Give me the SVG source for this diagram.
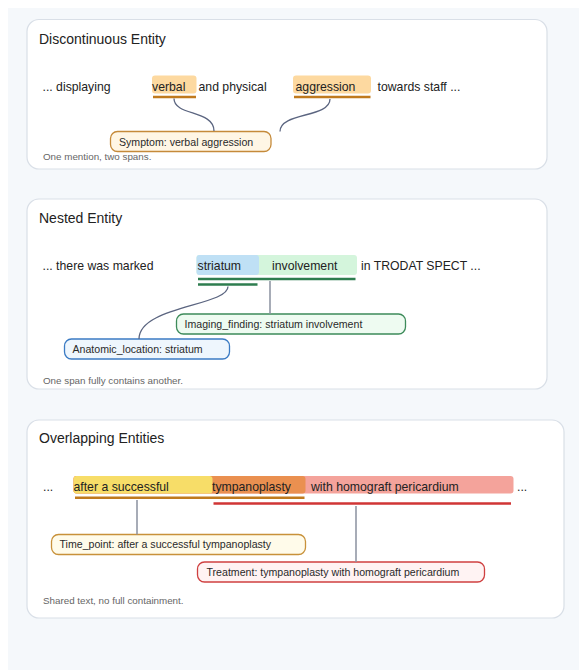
<svg xmlns="http://www.w3.org/2000/svg" width="579" height="670" viewBox="0 0 579 670">
<style>
text{font-family:"Liberation Sans",Arial,Helvetica,sans-serif;fill:#222}
.title{font-size:14px}
.tok{font-size:12.25px}
.lbl{font-size:10.6px;fill:#2a2a2a}
.note{font-size:9.8px;fill:#666}
.panel{fill:#fff;stroke:#d9dfe7;stroke-width:1.2}
.conn{fill:none;stroke:#5b6580;stroke-width:1.3}
.vconn{fill:none;stroke:#8a919f;stroke-width:1.5}
.ul{stroke-width:2.6;fill:none}
.box{stroke-width:1.3}
</style>
<rect x="8" y="8" width="571" height="662" fill="#f5f8fb"/>

<g id="panel-discontinuous">
<rect class="panel" x="27" y="19.5" width="520" height="149.5" rx="12"/>
<text class="title" x="39" y="44">Discontinuous Entity</text>
<text class="note" x="43" y="160">One mention, two spans.</text>
</g>
<g id="panel-nested">
<rect class="panel" x="27" y="199" width="520" height="190" rx="12"/>
<text class="title" x="39" y="223">Nested Entity</text>
<text class="note" x="43" y="384">One span fully contains another.</text>
</g>
<g id="panel-overlapping">
<rect class="panel" x="27" y="420" width="537" height="198" rx="12"/>
<text class="title" x="39" y="443">Overlapping Entities</text>
<text class="note" x="43" y="604">Shared text, no full containment.</text>
</g>

<!-- Panel 1 tokens -->
<g id="tok-displaying"><text class="tok" x="42.5" y="90.5">... displaying</text></g>
<g id="tok-verbal">
<rect x="152" y="75.5" width="44.5" height="18" rx="3" fill="#fdd9a0"/>
<text class="tok" x="152" y="90.5">verbal</text>
<line class="ul" x1="153" y1="97" x2="196" y2="97" stroke="#c07a1e"/>
</g>
<g id="tok-and-physical"><text class="tok" x="198.5" y="90.5">and physical</text></g>
<g id="tok-aggression">
<rect x="293" y="75.5" width="78" height="18" rx="3" fill="#fdd9a0"/>
<text class="tok" x="295.5" y="90.5">aggression</text>
<line class="ul" x1="294" y1="97" x2="370.5" y2="97" stroke="#c07a1e"/>
</g>
<g id="tok-towards"><text class="tok" x="377.5" y="90.5">towards staff ...</text></g>
<g id="label-symptom">
<rect class="box" x="110.5" y="131.5" width="160.5" height="20" rx="7" fill="#fff6e5" stroke="#c58a3a"/>
<text class="lbl" x="119" y="146">Symptom: verbal aggression</text>
</g>

<!-- Panel 2 tokens -->
<g id="tok-marked"><text class="tok" x="42.5" y="270">... there was marked</text></g>
<g id="tok-striatum-involvement">
<rect x="196.5" y="255" width="160.5" height="20" rx="3" fill="#d4f5dc"/>
<rect x="196.5" y="255" width="62.5" height="20" rx="3" fill="#bfe0f5"/>
<text class="tok" x="197.5" y="270">striatum</text>
<text class="tok" x="272" y="270">involvement</text>
<line class="ul" x1="198" y1="279" x2="355.5" y2="279" stroke="#2e7d4f"/>
<line class="ul" x1="198" y1="284.5" x2="257.5" y2="284.5" stroke="#2e7d4f"/>
</g>
<g id="tok-trodat"><text class="tok" x="361" y="270">in TRODAT SPECT ...</text></g>
<g id="label-imaging">
<rect class="box" x="176.5" y="314" width="229" height="20" rx="7" fill="#eefbf1" stroke="#3d8b5a"/>
<text class="lbl" x="184.5" y="328">Imaging_finding: striatum involvement</text>
</g>
<g id="label-anatomic">
<rect class="box" x="64.5" y="339" width="165" height="20" rx="7" fill="#eef6fd" stroke="#3b7bc4"/>
<text class="lbl" x="72.5" y="353">Anatomic_location: striatum</text>
</g>

<!-- Panel 3 tokens -->
<g id="tok-dots-left"><text class="tok" x="43" y="491">...</text></g>
<g id="tok-overlap">
<rect x="73.5" y="476" width="440" height="17.5" rx="3" fill="#f4a39b"/>
<rect x="73.5" y="476" width="232" height="17.5" rx="3" fill="#ea9050"/>
<rect x="73.5" y="476" width="139" height="17.5" rx="3" fill="#f7dd68"/>
<text class="tok" x="73.5" y="491">after a successful</text>
<text class="tok" x="212" y="491">tympanoplasty</text>
<text class="tok" x="311" y="491">with homograft pericardium</text>
<line class="ul" x1="75" y1="497.8" x2="304.5" y2="497.8" stroke="#c07a1e"/>
<line class="ul" x1="213.5" y1="503.5" x2="511" y2="503.5" stroke="#d03535"/>
</g>
<g id="tok-dots-right"><text class="tok" x="517" y="491">...</text></g>
<g id="label-time">
<rect class="box" x="51.5" y="534.5" width="254" height="20" rx="7" fill="#fffbea" stroke="#c8913a"/>
<text class="lbl" x="59.5" y="548">Time_point: after a successful tympanoplasty</text>
</g>
<g id="label-treatment">
<rect class="box" x="197.5" y="562" width="287" height="20" rx="7" fill="#fff3f3" stroke="#cf4040"/>
<text class="lbl" x="206.5" y="576">Treatment: tympanoplasty with homograft pericardium</text>
</g>

<g id="connectors">
<path class="conn" d="M174,98.5 C174,116 214,110 214,131"/>
<path class="conn" d="M330,99 C330,118 280,112 280,131.5"/>
<path class="conn" d="M228,286.5 C228,306 139,306 139,339"/>
<line class="vconn" x1="270" y1="281" x2="270" y2="314"/>
<line class="vconn" x1="137" y1="500" x2="137" y2="534.5"/>
<line class="vconn" x1="356" y1="506" x2="356" y2="562"/>
</g>
</svg>
